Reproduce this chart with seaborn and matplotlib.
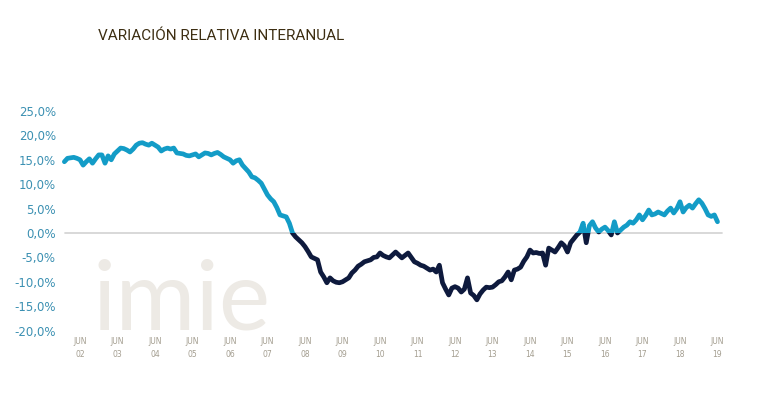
import numpy as np
import pandas as pd
import matplotlib.pyplot as plt
import matplotlib.patches as mpatches
import seaborn as sns

# variacion interanual mensual, ene-2002 a jun-2019 (%)
v2002 = [14.6, 15.3, 15.4, 15.5, 15.3, 15.0, 13.9, 14.6, 15.2, 14.3, 15.2, 16.0]
v2003 = [16.0, 14.3, 15.8, 15.0, 16.2, 16.8, 17.4, 17.3, 17.0, 16.6, 17.2, 18.0]
v2004 = [18.4, 18.5, 18.2, 18.0, 18.4, 18.0, 17.6, 16.8, 17.2, 17.4, 17.2, 17.4]
v2005 = [16.4, 16.3, 16.2, 15.9, 15.8, 16.0, 16.2, 15.6, 16.0, 16.4, 16.3, 16.0]
v2006 = [16.3, 16.5, 16.1, 15.6, 15.3, 15.0, 14.3, 14.8, 15.0, 13.9, 13.2, 12.5]
v2007 = [11.5, 11.3, 10.8, 10.2, 9.0, 7.8, 7.0, 6.4, 5.2, 3.7, 3.5, 3.3]
v2008 = [2.0, 0.0, -0.8, -1.4, -2.0, -2.8, -3.8, -4.9, -5.2, -5.5, -8.0, -9.0]
v2009 = [-10.2, -9.2, -9.8, -10.1, -10.2, -10.0, -9.6, -9.2, -8.2, -7.6, -6.8, -6.4]
v2010 = [-5.9, -5.7, -5.5, -5.0, -4.9, -4.1, -4.6, -4.9, -5.1, -4.5, -3.9, -4.5]
v2011 = [-5.1, -4.6, -4.1, -5.0, -5.9, -6.2, -6.6, -6.8, -7.2, -7.6, -7.4, -8.0]
v2012 = [-6.6, -10.2, -11.5, -12.7, -11.3, -11.0, -11.3, -12.1, -11.5, -9.2, -12.3, -12.8]
v2013 = [-13.7, -12.5, -11.7, -11.1, -11.2, -11.1, -10.6, -10.0, -9.8, -9.0, -8.0, -9.6]
v2014 = [-7.6, -7.4, -7.0, -5.8, -4.9, -3.5, -4.1, -4.0, -4.2, -4.1, -6.6, -3.1]
v2015 = [-3.5, -3.9, -3.0, -2.0, -2.6, -3.9, -2.0, -1.2, -0.4, 0.2, 2.0, -2.0]
v2016 = [1.5, 2.3, 1.0, 0.2, 0.8, 1.2, 0.5, -0.4, 2.3, 0.0, 0.6, 1.2]
v2017 = [1.6, 2.3, 2.0, 2.7, 3.7, 2.7, 3.6, 4.7, 3.7, 3.9, 4.3, 4.0]
v2018 = [3.7, 4.5, 5.1, 4.1, 5.0, 6.4, 4.3, 5.2, 5.7, 5.1, 6.0, 6.8]
v2019 = [6.1, 5.0, 3.7, 3.4, 3.7, 2.3]

anios = ['02', '03', '04', '05', '06', '07', '08', '09', '10',
         '11', '12', '13', '14', '15', '16', '17', '18', '19']
yticks = [-20, -15, -10, -5, 0, 5, 10, 15, 20, 25]

valores = (v2002 + v2003 + v2004 + v2005 + v2006 + v2007 + v2008 + v2009 + v2010
           + v2011 + v2012 + v2013 + v2014 + v2015 + v2016 + v2017 + v2018 + v2019)

df = pd.DataFrame({'mes': np.arange(len(valores)), 'variacion': valores})

sns.set_style('white')
fig = plt.figure(figsize=(7.7, 3.98), dpi=100)
ax = fig.add_axes([60 / 770, 1 - 334 / 398, 665 / 770, 234 / 398])

# marca de agua
fig.text(93 / 770, 1 - 330 / 398, 'imie', fontsize=70, color='#edeae5',
         family=['Lato', 'DejaVu Sans'], zorder=0)

ax.axhline(0, xmin=0.008, xmax=0.995, color='#d6d6d6', lw=1.3, zorder=1)

# misma serie dos veces: azul claro por encima de 0, azul oscuro por debajo
sns.lineplot(data=df, x='mes', y='variacion', color='#0e1a3d', linewidth=3.4,
             ax=ax, zorder=3, solid_joinstyle='round', solid_capstyle='round')
sns.lineplot(data=df, x='mes', y='variacion', color='#139cc7', linewidth=3.4,
             ax=ax, zorder=4, solid_joinstyle='round', solid_capstyle='round')

ax.set_xlim(-1.4, 211.4)
ax.set_ylim(-20.7, 27.25)

linea_neg, linea_pos = ax.lines[-2], ax.lines[-1]
linea_neg.set_clip_path(mpatches.Rectangle((-10, -100), 300, 100, transform=ax.transData))
linea_pos.set_clip_path(mpatches.Rectangle((-10, 0), 300, 100, transform=ax.transData))

ax.set_yticks(yticks)
ax.set_yticklabels([f'{t:.1f}%'.replace('.', ',') for t in yticks],
                   color='#3b90b2', fontsize=8.5)
ax.set_xticks(np.arange(5, len(valores), 12))
ax.set_xticklabels(['JUN\n' + a for a in anios], color='#a39d8f', fontsize=5.5,
                   linespacing=1.6)
ax.tick_params(axis='y', length=0, pad=3)
ax.tick_params(axis='x', length=0, pad=2)
ax.set_xlabel('')
ax.set_ylabel('')
sns.despine(ax=ax, left=True, bottom=True)
ax.patch.set_alpha(0)

fig.text(98 / 770, 1 - 40 / 398, 'VARIACIÓN RELATIVA INTERANUAL', fontsize=11,
         color='#3d2e12', family=['Roboto', 'DejaVu Sans'])

fig.savefig('out.png', dpi=100)
